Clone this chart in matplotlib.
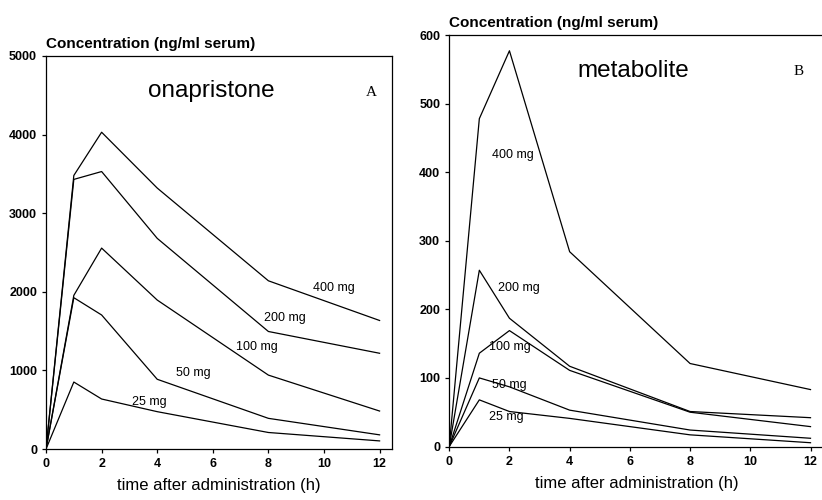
import matplotlib.pyplot as plt

plt.rc('font', family=['Liberation Sans', 'DejaVu Sans'])
plt.rc(('xtick', 'ytick'), direction='out', labelsize=9)
plt.rc(('xtick.major', 'ytick.major'), size=3, width=0.9)

# time points (h)
hours = [0, 1, 2, 4, 8, 12]
doses = ['400 mg', '200 mg', '100 mg', '50 mg', '25 mg']

# panel A: onapristone (ng/ml serum)
ona_400 = [0, 3480, 4030, 3320, 2140, 1635]
ona_200 = [0, 3430, 3530, 2680, 1495, 1218]
ona_100 = [0, 1955, 2556, 1895, 940, 483]
ona_50 = [0, 1925, 1705, 887, 390, 180]
ona_25 = [0, 852, 636, 475, 210, 103]
ona_label_pos = [(10.35, 2050), (8.6, 1665), (7.6, 1300), (5.3, 965), (3.7, 598)]

# panel B: metabolite (ng/ml serum)
met_400 = [0, 478, 577, 284, 121, 83]
met_200 = [0, 257, 187, 117, 51, 42]
met_100 = [0, 136, 169, 111, 50, 29]
met_50 = [0, 100, 87, 53, 24, 12]
met_25 = [0, 68, 51, 41, 17, 5.5]
met_label_pos = [(2.1, 425), (2.3, 231), (2.0, 145), (2.0, 90), (1.9, 43)]


def draw_panel(ax, series, label_pos, ymax, ystep, name, letter, name_xy, letter_xy):
    for vals in series:
        ax.plot(hours, vals, color='k', lw=0.9)
    for d, (lx, ly) in zip(doses, label_pos):
        ax.text(lx, ly, d, fontsize=9, ha='center', va='center')
    ax.set_xlim(0, 12.45)
    ax.set_ylim(0, ymax)
    ax.set_xticks(range(0, 13, 2))
    ax.set_yticks(range(0, ymax + 1, ystep))
    for t in ax.get_xticklabels() + ax.get_yticklabels():
        t.set_fontweight('bold')
    ax.text(*name_xy, name, fontsize=17.5, ha='center', va='center')
    ax.text(*letter_xy, letter, fontsize=11, ha='center', va='center',
            family='Liberation Serif')
    ax.set_xlabel('time after administration (h)', fontsize=12, labelpad=6)
    ax.text(0, 1.012, 'Concentration (ng/ml serum)', transform=ax.transAxes,
            fontsize=11, fontweight='bold', ha='left', va='bottom')
    for s in ax.spines.values():
        s.set_linewidth(0.9)


fig = plt.figure(figsize=(8.22, 5.0), dpi=100)
axA = fig.add_axes([0.0560, 0.102, 0.4210, 0.786])
axB = fig.add_axes([0.5465, 0.107, 0.4560, 0.823])

draw_panel(axA, [ona_400, ona_200, ona_100, ona_50, ona_25], ona_label_pos,
           5000, 1000, 'onapristone', 'A', (5.95, 4560), (11.7, 4540))
draw_panel(axB, [met_400, met_200, met_100, met_50, met_25], met_label_pos,
           600, 100, 'metabolite', 'B', (6.1, 547), (11.6, 547))
axB.spines['right'].set_visible(False)

fig.savefig('out.png', dpi=100)
